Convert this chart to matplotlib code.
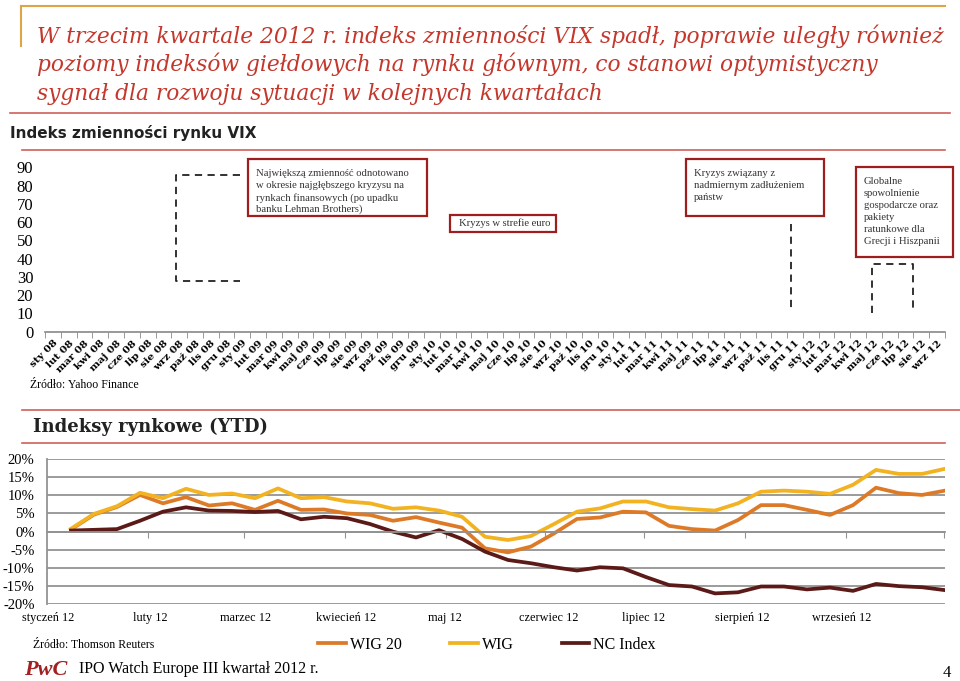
import numpy as np
import matplotlib.pyplot as plt
from matplotlib.patches import Rectangle

W, H = 960, 681

# Dane
MIESIACE = ['sty', 'lut', 'mar', 'kwi', 'maj', 'cze', 'lip', 'sie', 'wrz', 'paź', 'lis', 'gru']
LATA = ['08', '09', '10', '11', '12']
etykiety_vix = [f'{m} {r}' for r in LATA for m in MIESIACE][:57]   # sty 08 .. wrz 12
# seria VIX nie jest widoczna na wykresie (pusty obszar)

# Indeksy rynkowe YTD, dane tygodniowe (%)
wig20 = [0.6, 4.7, 6.8, 10.1, 7.8, 9.5, 7.2, 7.8, 6.0, 8.5, 6.0, 6.1, 5.0,
         4.6, 3.0, 4.0, 2.5, 1.1, -4.6, -5.7, -4.1, -0.5, 3.5, 3.9, 5.5, 5.3,
         1.6, 0.7, 0.3, 3.2, 7.3, 7.3, 6.0, 4.6, 7.3, 12.1, 10.6, 10.1, 11.3]
wig = [0.8, 4.9, 7.0, 10.7, 9.2, 11.8, 10.1, 10.5, 9.2, 11.9, 9.2, 9.5, 8.3,
       7.8, 6.3, 6.7, 5.8, 4.1, -1.4, -2.3, -1.2, 2.1, 5.5, 6.4, 8.3, 8.3,
       6.7, 6.2, 5.8, 7.8, 11.0, 11.3, 11.0, 10.4, 12.9, 17.0, 15.9, 15.9, 17.3]
nc_index = [0.3, 0.5, 0.7, 3.0, 5.5, 6.7, 5.8, 5.7, 5.4, 5.7, 3.4, 4.1, 3.7,
            2.1, 0.0, -1.6, 0.4, -2.0, -5.5, -7.8, -8.7, -9.8, -10.7, -9.8, -10.1, -12.5,
            -14.7, -15.1, -17.0, -16.7, -15.1, -15.1, -15.9, -15.4, -16.3, -14.4, -15.0, -15.3, -16.1]
miesiace_2012 = ['styczeń 12', 'luty 12', 'marzec 12', 'kwiecień 12', 'maj 12',
                 'czerwiec 12', 'lipiec 12', 'sierpień 12', 'wrzesień 12']

# pozycje etykiet i podziałek (w numerach tygodni)
poz_etykiet = [-1.0, 3.43, 7.57, 11.96, 16.26, 20.78, 24.9, 29.17, 33.52]
poz_podzialek = [3.35, 7.5, 11.9, 16.3, 20.6, 24.9, 29.3, 33.7, 37.96]

CZERWONY = '#C4372C'
RAMKA = '#9E1E1E'
SZARY = '#939393'
SERIF = ['DejaVu Serif']
SERIF2 = ['Liberation Serif', 'DejaVu Serif']

fig = plt.figure(figsize=(9.6, 6.81), dpi=100)

def fx(x):
    return x / W

def fy(y):
    return 1 - y / H

# --- wykres VIX ---
ax1 = fig.add_axes([fx(45), fy(331.7), 900 / W, (331.7 - 167.3) / H])
ax1.set_xlim(-0.5, len(etykiety_vix) - 0.5)
ax1.set_ylim(0, 90)
ax1.set_yticks(range(0, 91, 10))
ax1.set_yticklabels([str(v) for v in range(0, 91, 10)], family=SERIF2, fontsize=12)
ax1.tick_params(axis='y', length=0, pad=8.5)
ax1.set_xticks(range(len(etykiety_vix)))
ax1.set_xticklabels(etykiety_vix, rotation=45, ha='right', rotation_mode='anchor',
                    family=SERIF, fontsize=7.5, fontweight='bold')
ax1.tick_params(axis='x', length=0, pad=5)
ax1.set_xticks(np.arange(-0.5, len(etykiety_vix), 1), minor=True)
ax1.tick_params(axis='x', which='minor', length=4, color='#888888')
for s in ['left', 'top', 'right']:
    ax1.spines[s].set_visible(False)
ax1.spines['bottom'].set_color('#888888')
ax1.spines['bottom'].set_linewidth(1.2)

# --- indeksy rynkowe ---
ax2 = fig.add_axes([fx(47), fy(604.3), (945 - 47) / W, (604.3 - 459) / H])
tyg = np.arange(len(wig))
ax2.plot(tyg, wig20, color='#DD7A28', lw=2.7, solid_joinstyle='round', label='WIG 20')
ax2.plot(tyg, wig, color='#F2B221', lw=2.7, solid_joinstyle='round', label='WIG')
ax2.plot(tyg, nc_index, color='#5B1A17', lw=2.7, solid_joinstyle='round', label='NC Index')
ax2.set_xlim(-24 / 23, 38)
ax2.set_ylim(-20, 20)
ax2.set_yticks(range(-20, 21, 5))
ax2.set_yticklabels([f'{v}%' for v in range(-20, 21, 5)], family=SERIF2, fontsize=10.5)
ax2.tick_params(axis='y', length=0, pad=9)
ax2.grid(axis='y', color=SZARY, lw=1.3)
ax2.set_axisbelow(True)
for s in ['top', 'right']:
    ax2.spines[s].set_visible(False)
ax2.spines['left'].set_color(SZARY)
ax2.spines['left'].set_linewidth(1.3)
ax2.spines['bottom'].set_position(('data', 0))
ax2.spines['bottom'].set_color(SZARY)
ax2.spines['bottom'].set_linewidth(1.3)
ax2.set_xticks(poz_podzialek)
ax2.tick_params(axis='x', length=4, color=SZARY, labelbottom=False)
for p, m in zip(poz_etykiet, miesiace_2012):
    ax2.text(p, -0.094, m, transform=ax2.get_xaxis_transform(), ha='center', va='center',
             family=SERIF2, fontsize=8.8)

leg = fig.legend(loc='center', bbox_to_anchor=(fx(487), fy(645)), ncol=3, frameon=False,
                 handlelength=1.75, columnspacing=3.0, handletextpad=0.25,
                 prop={'family': SERIF2, 'size': 11.5})

# --- warstwa z tekstami i ramkami (piksele) ---
ov = fig.add_axes([0, 0, 1, 1])
ov.set_xlim(0, W)
ov.set_ylim(H, 0)
ov.axis('off')

ov.plot([21, 945], [6, 6], color='#E0A448', lw=1.5)
ov.plot([21, 21], [6, 46], color='#E0A448', lw=1.5)

tytul = ['W trzecim kwartale 2012 r. indeks zmienności VIX spadł, poprawie uległy również',
         'poziomy indeksów giełdowych na rynku głównym, co stanowi optymistyczny',
         'sygnał dla rozwoju sytuacji w kolejnych kwartałach']
for i, linia in enumerate(tytul):
    ov.text(37, 43 + 28.5 * i, linia, fontsize=15.7, style='italic', family=SERIF,
            color=CZERWONY, va='baseline')

ov.plot([10, 950], [113, 113], color='#D0605A', lw=1.2)
ov.text(10, 133, 'Indeks zmienności rynku VIX', fontsize=11, fontweight='bold',
        family=['Liberation Sans Narrow', 'DejaVu Sans'], color='#222222', va='center')
ov.plot([22, 945], [150, 150], color='#D0605A', lw=1.2)
ov.text(30, 385, 'Źródło: Yahoo Finance', fontsize=8.5, family=SERIF2, va='center')

# ramki z komentarzami
ramki = [
    (248, 159, 179, 57, ['Największą zmienność odnotowano', 'w okresie najgłębszego kryzysu na',
                         'rynkach finansowych (po upadku', 'banku Lehman Brothers)'], 256, 174),
    (450, 215, 106, 17, ['Kryzys w strefie euro'], 459, 223),
    (686, 159, 138, 57, ['Kryzys związany z', 'nadmiernym zadłużeniem', 'państw'], 694, 174),
    (856, 167, 97, 90, ['Globalne', 'spowolnienie', 'gospodarcze oraz', 'pakiety',
                        'ratunkowe dla', 'Grecji i Hiszpanii'], 864, 182),
]
for x, y, w, h, linie, tx, ty in ramki:
    ov.add_patch(Rectangle((x, y), w, h, fill=False, edgecolor=RAMKA, lw=1.6))
    for k, t in enumerate(linie):
        ov.text(tx, ty + 11.8 * k, t, fontsize=7.7, family=SERIF2, color='#333333', va='center')

przerywana = dict(color='#222222', lw=1.3, ls=(0, (4, 3)))
ov.plot([240, 176, 176, 240], [175, 175, 281, 281], **przerywana)
ov.plot([791, 791], [224, 311], **przerywana)
ov.plot([872, 872, 913, 913], [313, 264, 264, 313], **przerywana)

# dolna część
ov.plot([22, 960], [410, 410], color='#D0605A', lw=1.2)
ov.text(33, 427, 'Indeksy rynkowe (YTD)', fontsize=13, fontweight='bold', family=SERIF,
        color='#222222', va='center')
ov.plot([22, 945], [443, 443], color='#D0605A', lw=1.2)

ov.text(33, 645, 'Źródło: Thomson Reuters', fontsize=8.5, family=SERIF2, va='center')
ov.text(24, 670, 'PwC', fontsize=16, fontweight='bold', style='italic', family=SERIF2,
        color='#A32020', va='center')
ov.text(79, 669, 'IPO Watch Europe III kwartał 2012 r.', fontsize=11.5, family=SERIF2, va='center')
ov.text(943, 673, '4', fontsize=12, family=SERIF2, va='center')

fig.savefig('out.png', dpi=100)
